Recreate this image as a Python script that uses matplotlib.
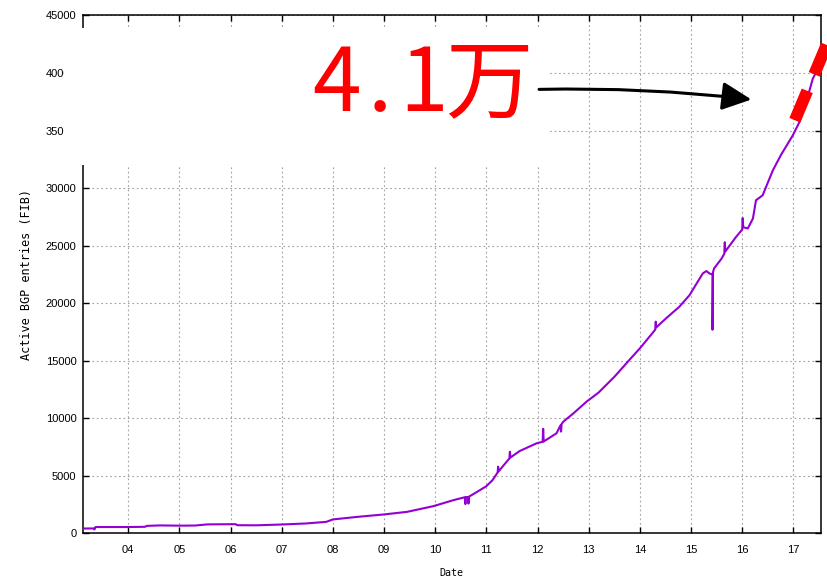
import matplotlib
matplotlib.use("Agg")
import matplotlib.pyplot as plt
from matplotlib.patches import Rectangle, FancyArrowPatch
from matplotlib.ticker import FixedLocator, FuncFormatter

plt.rcParams['font.family'] = ['Liberation Sans', 'DejaVu Sans']

# active BGP entries (FIB)
years = [2003.10, 2003.33, 2003.34, 2003.36, 2003.97, 2004.33, 2004.36, 2004.62,
         2005.00, 2005.30, 2005.55, 2006.10, 2006.13, 2006.50, 2007.00, 2007.47,
         2007.87, 2008.00, 2008.47, 2008.99, 2009.45, 2009.96, 2010.36, 2010.58,
         2010.59, 2010.60, 2010.64, 2010.65, 2010.66, 2010.82, 2011.00, 2011.12,
         2011.22, 2011.23, 2011.24, 2011.45, 2011.46, 2011.47, 2011.65, 2011.98,
         2012.10, 2012.11, 2012.12, 2012.37, 2012.45, 2012.46, 2012.47, 2012.50,
         2012.70, 2012.96, 2013.19, 2013.50, 2013.82, 2014.00, 2014.30, 2014.31,
         2014.32, 2014.51, 2014.77, 2014.97, 2015.23, 2015.30, 2015.36, 2015.42,
         2015.42, 2015.43, 2015.45, 2015.60, 2015.65, 2015.66, 2015.67, 2015.88,
         2016.00, 2016.01, 2016.02, 2016.11, 2016.21, 2016.27, 2016.40, 2016.60,
         2016.76, 2016.99, 2017.12, 2017.28, 2017.38, 2017.45]
entries = [430, 440, 350, 560, 560, 580, 660, 700,
           680, 690, 790, 810, 720, 710, 780, 870,
           1010, 1220, 1440, 1650, 1880, 2370, 2900, 3150,
           2550, 3160, 3170, 2600, 3200, 3620, 4110, 4630,
           5300, 5800, 5400, 6520, 7100, 6600, 7160, 7830,
           7970, 9090, 7990, 8700, 9400, 8850, 9500, 9700,
           10430, 11460, 12230, 13600, 15200, 16080, 17700, 18400,
           17900, 18680, 19690, 20700, 22590, 22800, 22590, 22500,
           17700, 22700, 23020, 23900, 24300, 25300, 24500, 25760,
           26400, 27400, 26600, 26500, 27360, 28950, 29380, 31550,
           32900, 34590, 35750, 37920, 39510, 40100]

# red dashed trend towards 41k
trend_x = [2017.03, 2017.95]
trend_y = [35900, 45600]

year_ticks = list(range(2004, 2018))
y_ticks = list(range(0, 45001, 5000))

# big annotation, one glyph at a time (wide spacing in the original)
big_chars = ["4", ".", "1", "万"]
big_centers_px = [337, 380, 424, 489]

fig = plt.figure(figsize=(8.27, 5.84), dpi=100)
ax = fig.add_axes([0.1000, 0.0865, 0.8924, 0.8870])

ax.plot(years, entries, color='#9400d3', lw=1.5, zorder=3)
ax.plot(trend_x, trend_y, color='#ff0000', lw=8.6, solid_capstyle='butt',
        dash_capstyle='butt', linestyle=(0, (2.67, 1.5)), clip_on=False, zorder=4)

ax.set_xlim(2003.11, 2017.535)
ax.set_ylim(0, 45000)
ax.xaxis.set_major_locator(FixedLocator(year_ticks))
ax.xaxis.set_major_formatter(FuncFormatter(lambda v, p: "%02d" % (int(round(v)) % 100)))
ax.yaxis.set_major_locator(FixedLocator(y_ticks))

ax.grid(True, color='#a0a0a0', linestyle=(0, (1.5, 2.5)), lw=0.8)
ax.tick_params(direction='in', length=4, width=1, top=True, right=True,
               labelsize=8, colors='black')
ax.tick_params(axis='x', pad=8.5)
ax.tick_params(axis='y', pad=4.5)
for s in ax.spines.values():
    s.set_linewidth(1.1)

ax.set_xlabel("Date", family='DejaVu Sans Mono', fontsize=7.2)
ax.set_ylabel("Active BGP entries (FIB)", family='DejaVu Sans Mono', fontsize=8.5)
ax.xaxis.set_label_coords(0.5, -0.066)
ax.yaxis.set_label_coords(-0.068, 0.5)

# white box hiding the upper left part
fig.add_artist(Rectangle((64 / 827, 1 - 165 / 584), 486 / 827, 137 / 584,
                         transform=fig.transFigure, facecolor='white',
                         edgecolor='none', zorder=5))

for ch, cx in zip(big_chars, big_centers_px):
    fig.text(cx / 827, 1 - 111 / 584, ch, color='#ff0000', fontsize=63,
             family=['Noto Sans CJK JP', 'DejaVu Sans'], ha='center', va='baseline', zorder=7)

arrow = FancyArrowPatch((2012.03, 38580), (2016.18, 37700), transform=ax.transData,
                        arrowstyle='-|>,head_length=1.0,head_width=0.48',
                        mutation_scale=18, connectionstyle='arc3,rad=-0.035',
                        color='black', lw=2.2, shrinkA=0, shrinkB=0, zorder=7)
fig.add_artist(arrow)

fig.savefig("out.png", dpi=100)
